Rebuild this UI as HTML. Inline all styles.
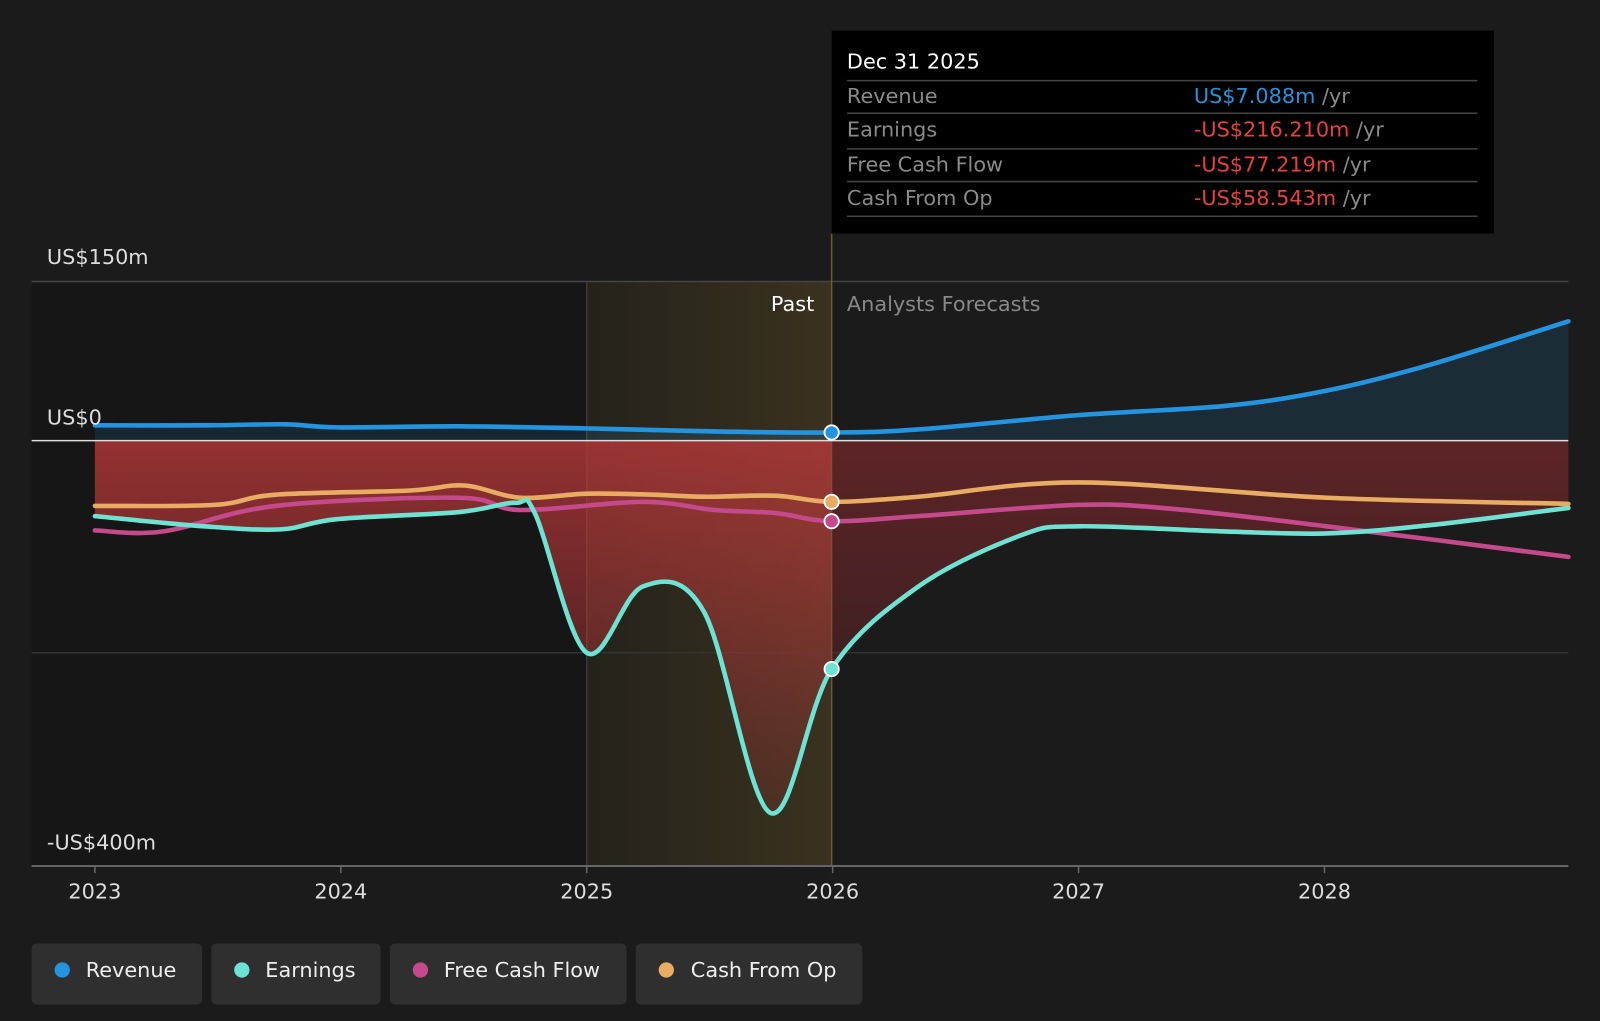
<!DOCTYPE html>
<html><head><meta charset="utf-8"><style>
html,body{margin:0;padding:0;background:#1b1b1b;width:1600px;height:1021px;overflow:hidden}
svg{display:block;font-family:"DejaVu Sans","Liberation Sans",sans-serif}
</style></head><body>
<svg id="s" width="1600" height="1021" viewBox="0 0 1568 1001" preserveAspectRatio="none" xmlns="http://www.w3.org/2000/svg">
<defs>
<linearGradient id="hl" x1="0" x2="1" y1="0" y2="0"><stop offset="0" stop-color="#24221a"/><stop offset="1" stop-color="#3a3220"/></linearGradient>
<linearGradient id="red" x1="0" x2="0" y1="0" y2="1"><stop offset="0" stop-color="#c0393b" stop-opacity="0.75"/><stop offset="1" stop-color="#c0393b" stop-opacity="0.15"/></linearGradient>
<linearGradient id="redf" x1="0" x2="0" y1="0" y2="1"><stop offset="0" stop-color="#8a2a2e" stop-opacity="0.6"/><stop offset="1" stop-color="#8a2a2e" stop-opacity="0.15"/></linearGradient>
<clipPath id="past"><rect x="0" y="0" width="815" height="1001"/></clipPath>
<clipPath id="fut"><rect x="815" y="0" width="800" height="1001"/></clipPath>
</defs>
<rect width="1568" height="1001" fill="#1b1b1b"/>
<rect x="31" y="276" width="784" height="573" fill="#161616"/>
<rect x="575" y="276" width="240" height="573" fill="url(#hl)"/>
<line x1="31" y1="276" x2="1537" y2="276" stroke="#444" stroke-width="1.5"/>
<line x1="31" y1="640" x2="1537" y2="640" stroke="#333" stroke-width="1.5"/>
<line x1="575" y1="276" x2="575" y2="849" stroke="#3a3a3a" stroke-width="1.5"/>
<line x1="815" y1="229" x2="815" y2="849" stroke="#6b5a3a" stroke-width="1.5"/>
<g id="fills"></g>
<line x1="31" y1="432" x2="1537" y2="432" stroke="#ddd" stroke-width="1.5"/>
<g id="lines"></g>
<line x1="31" y1="849" x2="1537" y2="849" stroke="#666" stroke-width="2"/>
<g fill="#ddd" font-size="20.4">
<text x="46" y="259">US$150m</text>
<text x="46" y="416">US$0</text>
<text x="46" y="833">-US$400m</text>
<text x="798" y="305" text-anchor="end" fill="#fff">Past</text>
<text x="830" y="305" fill="#888">Analysts Forecasts</text>
<g text-anchor="middle">
<text x="93" y="881">2023</text><text x="334" y="881">2024</text><text x="575" y="881">2025</text>
<text x="816" y="881">2026</text><text x="1057" y="881">2027</text><text x="1298" y="881">2028</text>
</g></g>
<g stroke="#666" stroke-width="1.5">
<line x1="93" y1="849" x2="93" y2="856"/><line x1="334" y1="849" x2="334" y2="856"/><line x1="575" y1="849" x2="575" y2="856"/><line x1="816" y1="849" x2="816" y2="856"/><line x1="1057" y1="849" x2="1057" y2="856"/><line x1="1298" y1="849" x2="1298" y2="856"/>
</g>
<rect x="815" y="30" width="649" height="199" fill="#000"/>
<g font-size="20.4">
<text x="830" y="67" fill="#fff">Dec 31 2025</text>
<g stroke="#444" stroke-width="1.5"><line x1="830" y1="79" x2="1448" y2="79"/><line x1="830" y1="111" x2="1448" y2="111"/><line x1="830" y1="146" x2="1448" y2="146"/><line x1="830" y1="178" x2="1448" y2="178"/><line x1="830" y1="212" x2="1448" y2="212"/></g>
<g fill="#8a8a8a"><text x="830" y="101">Revenue</text><text x="830" y="134">Earnings</text><text x="830" y="168">Free Cash Flow</text><text x="830" y="201">Cash From Op</text></g>
<text x="1170" y="101" fill="#2394df">US$7.088m <tspan fill="#8a8a8a">/yr</tspan></text>
<text x="1170" y="134" fill="#e84040">-US$216.210m <tspan fill="#8a8a8a">/yr</tspan></text>
<text x="1170" y="168" fill="#e84040">-US$77.219m <tspan fill="#8a8a8a">/yr</tspan></text>
<text x="1170" y="201" fill="#e84040">-US$58.543m <tspan fill="#8a8a8a">/yr</tspan></text>
</g>
<g font-size="20.4" fill="#eee">
<rect x="31" y="925" width="167" height="60" rx="5" fill="#2f2f2f"/><circle cx="61" cy="951" r="7.5" fill="#2394df"/><text x="84" y="958">Revenue</text>
<rect x="207" y="925" width="166" height="60" rx="5" fill="#2f2f2f"/><circle cx="237" cy="951" r="7.5" fill="#6de3d3"/><text x="260" y="958">Earnings</text>
<rect x="382" y="925" width="232" height="60" rx="5" fill="#2f2f2f"/><circle cx="412" cy="951" r="7.5" fill="#c44a8c"/><text x="435" y="958">Free Cash Flow</text>
<rect x="623" y="925" width="222" height="60" rx="5" fill="#2f2f2f"/><circle cx="653" cy="951" r="7.5" fill="#e8ac62"/><text x="677" y="958">Cash From Op</text>
</g>
<g id="dots"></g>
</svg>
<script>
function cr(p){let d="M"+p[0][0]+","+p[0][1];for(let i=0;i<p.length-1;i++){const a=p[i-1]||p[i],b=p[i],c=p[i+1],e=p[i+2]||c;d+=" C"+(b[0]+(c[0]-a[0])/6)+","+(b[1]+(c[1]-a[1])/6)+" "+(c[0]-(e[0]-b[0])/6)+","+(c[1]-(e[1]-b[1])/6)+" "+c[0]+","+c[1];}return d;}
const rev=[[93,417],[200,417],[280,416],[330,419],[450,418],[575,420],[700,423],[815,424],[900,421],[1057,407],[1200,398],[1300,383],[1400,358],[1537,315]];
const ear=[[93,506],[200,516],[275,519],[330,509],[450,502],[505,493],[525,505],[575,640],[630,575],[690,600],[755,797],[815,656],[900,575],[1000,525],[1057,516],[1200,521],[1300,523],[1400,515],[1537,498]];
const fcf=[[93,520],[160,521],[270,496],[450,488],[510,500],[630,492],[700,500],[760,503],[815,511],[900,506],[1057,495],[1150,499],[1300,516],[1537,546]];
const cfo=[[93,496],[210,495],[270,485],[400,481],[455,476],[510,488],[575,484],[640,485],[690,487],[760,486],[815,492],[900,487],[1057,473],[1300,488],[1537,494]];
const ns="http://www.w3.org/2000/svg";
function el(g,t,a){const e=document.createElementNS(ns,t);for(const k in a)e.setAttribute(k,a[k]);document.getElementById(g).appendChild(e);return e;}
el("fills","path",{d:cr(rev)+" L1537,432 L93,432 Z",fill:"#2394df","fill-opacity":"0.15"});
const ef=cr(ear)+" L1537,432 L93,432 Z";
el("fills","path",{d:ef,fill:"url(#red)","clip-path":"url(#past)"});
el("fills","path",{d:ef,fill:"url(#redf)","clip-path":"url(#fut)"});
[[cfo,"#e8ac62"],[fcf,"#c44a8c"],[ear,"#6de3d3"],[rev,"#2394df"]].forEach(([p,c])=>el("lines","path",{d:cr(p),fill:"none",stroke:c,"stroke-width":4.5,"stroke-linecap":"round"}));
[[424,"#2394df"],[492,"#e8ac62"],[511,"#c44a8c"],[656,"#6de3d3"]].forEach(([y,c])=>el("dots","circle",{cx:815,cy:y,r:7,fill:c,stroke:"#fff","stroke-width":1.8}));
</script>
</body></html>
